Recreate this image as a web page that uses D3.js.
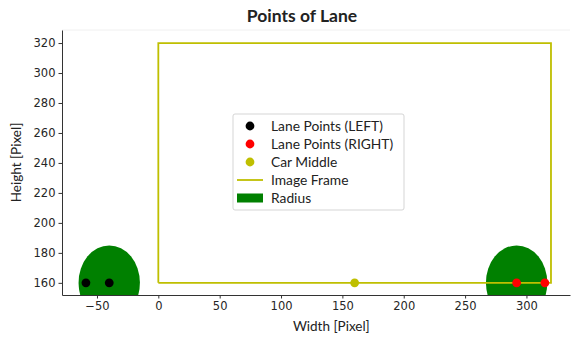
<!DOCTYPE html>
<html>
<head>
<meta charset="utf-8">
<script src="https://cdn.jsdelivr.net/npm/d3@7"></script>
<style>
  body { margin: 0; background: #fff; }
  svg text { fill: #222; }
</style>
</head>
<body>
<div id="chart"></div>
<script>
// lane data (image pixel coordinates)
var leftPoints = [[-59, 160], [-40, 160]];
var rightPoints = [[292, 160], [315, 160]];
var carMiddle = [[160, 160]];
var imageFrame = [[0, 160], [0, 320], [320, 320], [320, 160], [0, 160]];
var radiusCircles = [[-40, 160, 25], [292, 160, 25]];
var xTicks = [-50, 0, 50, 100, 150, 200, 250, 300];
var yTicks = [160, 180, 200, 220, 240, 260, 280, 300, 320];
var legendItems = [
  {label: "Lane Points (LEFT)", type: "dot", color: "#000000"},
  {label: "Lane Points (RIGHT)", type: "dot", color: "#ff0000"},
  {label: "Car Middle", type: "dot", color: "#bfbf00"},
  {label: "Image Frame", type: "line", color: "#bfbf00"},
  {label: "Radius", type: "patch", color: "#008000"}
];

(function laneChart(){
  var W = 572, H = 338;
  var margin = {top: 30, right: 2, bottom: 43, left: 62},
      width = W - margin.left - margin.right,
      height = H - margin.top - margin.bottom;

  var svg = d3.select("#chart").append("svg")
      .attr("width", W).attr("height", H);

  var g = svg.append("g")
      .attr("transform", "translate(" + margin.left + "," + margin.top + ")");

  var x = d3.scaleLinear().domain([-78.5, 335.5]).range([0, width]);
  var y = d3.scaleLinear().domain([151.9, 328.7]).range([height, 0]);

  g.append("clipPath").attr("id", "clip")
    .append("rect").attr("width", width).attr("height", height);

  // faint top spine
  g.append("line").attr("x1", 0).attr("x2", width).attr("y1", 0).attr("y2", 0)
    .attr("stroke", "#f0f0f0").attr("stroke-width", 1);

  var plot = g.append("g").attr("clip-path", "url(#clip)");

  // radius circles (drawn in data units, so they look like ellipses)
  plot.selectAll("ellipse.radius")
    .data(radiusCircles).enter().append("ellipse")
      .attr("class", "radius")
      .attr("cx", function(d){ return x(d[0]); })
      .attr("cy", function(d){ return y(d[1]); })
      .attr("rx", function(d){ return x(d[2]) - x(0); })
      .attr("ry", function(d){ return y(0) - y(d[2]); })
      .attr("fill", "#008000");

  // image frame
  plot.append("path")
    .datum(imageFrame)
    .attr("d", d3.line().x(function(d){ return x(d[0]); }).y(function(d){ return y(d[1]); }))
    .attr("fill", "none").attr("stroke", "#bfbf00").attr("stroke-width", 1.8);

  function dots(data, color){
    plot.append("g").selectAll("circle")
      .data(data).enter().append("circle")
        .attr("cx", function(d){ return x(d[0]); })
        .attr("cy", function(d){ return y(d[1]); })
        .attr("r", 4.4)
        .attr("fill", color);
  }
  dots(leftPoints, "#000000");
  dots(rightPoints, "#ff0000");
  dots(carMiddle, "#bfbf00");

  // axes
  var xAxis = g.append("g")
    .attr("transform", "translate(0," + height + ")")
    .call(d3.axisBottom(x).tickValues(xTicks).tickSize(3.5).tickSizeOuter(0).tickPadding(3)
      .tickFormat(function(d){ return d < 0 ? "\u2212" + Math.abs(d) : d; }));
  var yAxis = g.append("g")
    .call(d3.axisLeft(y).tickValues(yTicks).tickSize(3.5).tickSizeOuter(0).tickPadding(3));

  [xAxis, yAxis].forEach(function(a){
    a.select(".domain").attr("stroke", "#333").attr("stroke-width", 1);
    a.selectAll(".tick line").attr("stroke", "#333");
    a.selectAll(".tick text")
      .style("font-family", "DejaVu Sans").style("font-size", "11.5px").style("fill", "#262626");
  });

  // labels
  svg.append("text")
    .attr("x", margin.left + x(141)).attr("y", 331)
    .attr("text-anchor", "middle")
    .style("font-family", "Lato").style("font-size", "13.5px")
    .text("Width [Pixel]");

  svg.append("text")
    .attr("transform", "translate(21," + (margin.top + height / 2) + ") rotate(-90)")
    .attr("text-anchor", "middle")
    .style("font-family", "Lato").style("font-size", "13.5px")
    .text("Height [Pixel]");

  svg.append("text")
    .attr("x", 302).attr("y", 22)
    .attr("text-anchor", "middle")
    .style("font-family", "Lato").style("font-size", "17.5px").style("font-weight", "bold")
    .text("Points of Lane");

  // legend
  var legend = svg.append("g").attr("transform", "translate(233,114)");
  legend.append("rect")
    .attr("width", 171).attr("height", 96).attr("rx", 2)
    .attr("fill", "#fff").attr("stroke", "#d5d5d5").attr("stroke-width", 1);

  var rows = legend.selectAll("g.item")
    .data(legendItems).enter().append("g")
      .attr("class", "item")
      .attr("transform", function(d, i){ return "translate(0," + (12 + i * 18) + ")"; });

  rows.each(function(d){
    var r = d3.select(this);
    if (d.type === "dot") {
      r.append("circle").attr("cx", 17).attr("cy", 0).attr("r", 4.4).attr("fill", d.color);
    } else if (d.type === "line") {
      r.append("line").attr("x1", 4).attr("x2", 30).attr("y1", 0).attr("y2", 0)
        .attr("stroke", d.color).attr("stroke-width", 1.8);
    } else {
      r.append("rect").attr("x", 4).attr("y", -4.5).attr("width", 26).attr("height", 9)
        .attr("fill", d.color);
    }
    r.append("text").attr("x", 38).attr("y", 0).attr("dy", "0.35em")
      .style("font-family", "Lato").style("font-size", "13.8px")
      .text(d.label);
  });
}());
</script>
</body>
</html>
